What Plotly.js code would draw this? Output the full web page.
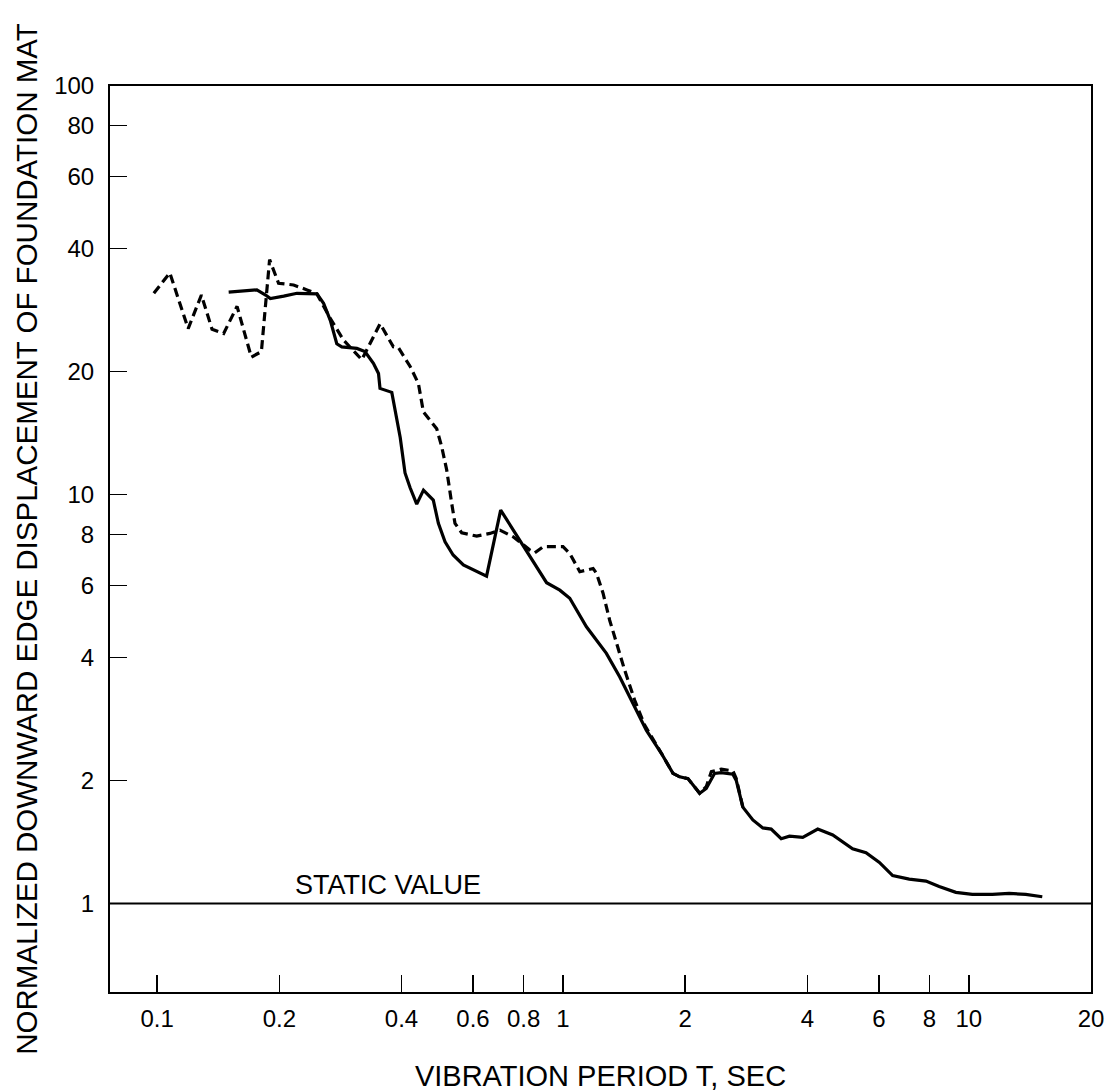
<!DOCTYPE html>
<html><head><meta charset="utf-8">
<script src="https://cdn.plot.ly/plotly-3.0.1.min.js"></script>
<style>html,body{margin:0;padding:0;background:#fff}#chart{width:1116px;height:1092px}</style>
</head><body><div id="chart"></div>
<script>
// Solid curve: vibration period T (sec) vs normalized displacement
const solidPeriod = [0.150,0.176,0.185,0.190,0.205,0.221,0.2475,0.257,0.267,0.277,0.285,0.3105,0.325,0.341,0.351,0.354,0.3785,0.386,0.397,0.408,0.420,0.436,0.453,0.479,0.493,0.512,0.536,0.568,0.648,0.702,0.754,0.829,0.911,0.982,1.039,1.142,1.279,1.380,1.488,1.605,1.747,1.866,1.938,2.032,2.171,2.254,2.362,2.454,2.621,2.672,2.774,2.936,3.107,3.258,3.448,3.614,3.897,4.243,4.62,5.17,5.58,6.02,6.49,7.13,7.84,8.45,9.29,10.2,11.43,12.57,13.81,15.17];
const solidValue  = [31.3,31.7,30.8,30.2,30.6,31.1,31.0,29.4,26.7,23.4,23.0,22.8,22.4,20.96,19.8,18.2,17.8,16.1,13.8,11.3,10.4,9.48,10.26,9.70,8.51,7.67,7.12,6.73,6.32,9.17,8.19,7.05,6.09,5.84,5.58,4.75,4.09,3.58,3.09,2.65,2.33,2.08,2.04,2.02,1.86,1.91,2.08,2.09,2.07,2.00,1.72,1.60,1.53,1.52,1.44,1.46,1.45,1.52,1.47,1.36,1.33,1.26,1.17,1.147,1.134,1.10,1.064,1.052,1.052,1.058,1.052,1.038];
// Dashed curve
const dashedPeriod = [0.0981,0.1074,0.1192,0.1285,0.1365,0.1458,0.1573,0.1706,0.1806,0.1892,0.1991,0.2168,0.2339,0.2475,0.2669,0.2877,0.3193,0.3542,0.3819,0.3929,0.4200,0.4402,0.4528,0.4703,0.4884,0.5024,0.5168,0.5317,0.5417,0.5627,0.6127,0.6606,0.6990,0.7536,0.8287,0.8523,0.8934,1.000,1.039,1.100,1.142,1.186,1.209,1.255,1.303,1.354,1.419,1.502,1.589,1.747,1.866,1.938,2.032,2.171,2.254,2.32,2.454,2.621,2.672,2.774];
const dashedValue  = [31.1,34.9,25.5,30.8,25.4,24.8,28.9,21.7,22.4,37.6,32.9,32.6,31.7,31.0,27.0,23.9,21.4,26.2,23.0,22.9,20.6,18.7,15.95,15.2,14.5,13.1,11.5,9.52,8.51,8.07,7.92,8.04,8.19,7.89,7.32,7.21,7.46,7.46,7.18,6.48,6.54,6.60,6.42,5.74,4.93,4.33,3.72,3.14,2.73,2.33,2.08,2.04,2.02,1.86,1.93,2.10,2.13,2.11,2.02,1.72];

const xTickValues = [0.1,0.2,0.4,0.6,0.8,1,2,4,6,8,10,20];
const xTickLabels = ["0.1","0.2","0.4","0.6","0.8","1","2","4","6","8","10","20"];
const yTickValues = [1,2,4,6,8,10,20,40,60,80,100];
const yTickLabels = ["1","2","4","6","8","10","20","40","60","80","100"];
const xLimits = [0.0765, 20];
const yLimits = [0.607, 100];
const staticValue = 1;
const staticLabel = "STATIC VALUE";
const staticLabelPeriod = 0.37;
const xTitle = "VIBRATION PERIOD T, SEC";
const yTitle = "NORMALIZED DOWNWARD EDGE DISPLACEMENT OF FOUNDATION MAT";

const FONT = '"Liberation Sans", Arial, sans-serif';

const traces = [
  {x: solidPeriod, y: solidValue, mode: 'lines', type: 'scatter',
   line: {color: '#000', width: 3.2, shape: 'linear'}, hoverinfo: 'x+y'},
  {x: dashedPeriod, y: dashedValue, mode: 'lines', type: 'scatter',
   line: {color: '#000', width: 3.2, dash: '9px,5px'}, hoverinfo: 'x+y'}
];

const axisCommon = {
  type: 'log', showgrid: false, zeroline: false,
  showline: true, linecolor: '#000', linewidth: 2, mirror: true,
  ticks: 'inside', ticklen: 17, tickwidth: 1.5, tickcolor: '#000',
  tickmode: 'array',
  tickfont: {family: FONT, size: 24, color: '#000'}
};

const layout = {
  width: 1116, height: 1092,
  margin: {l: 110, r: 25, t: 86, b: 100},
  paper_bgcolor: '#fff', plot_bgcolor: '#fff',
  showlegend: false,
  font: {family: FONT, color: '#000'},
  xaxis: Object.assign({}, axisCommon, {
    range: [Math.log10(xLimits[0]), Math.log10(xLimits[1])],
    tickvals: xTickValues, ticktext: xTickLabels,
    ticklabelstandoff: 4,
    title: {text: xTitle, font: {family: FONT, size: 29, color: '#000'}, standoff: 38}
  }),
  yaxis: Object.assign({}, axisCommon, {
    range: [Math.log10(yLimits[0]), Math.log10(yLimits[1])],
    tickvals: yTickValues, ticktext: yTickLabels,
    ticklabelstandoff: 9,
    title: {text: yTitle, font: {family: FONT, size: 29.5, color: '#000'}, standoff: 8}
  }),
  shapes: [{
    type: 'line', xref: 'paper', yref: 'y', x0: 0, x1: 1, y0: staticValue, y1: staticValue,
    line: {color: '#000', width: 2}
  }],
  annotations: [{
    x: Math.log10(staticLabelPeriod), y: Math.log10(staticValue), xref: 'x', yref: 'y',
    text: staticLabel, showarrow: false, xanchor: 'center', yanchor: 'bottom', yshift: 1,
    font: {family: FONT, size: 27, color: '#000'}
  }]
};

Plotly.newPlot('chart', traces, layout, {staticPlot: true, displayModeBar: false});
</script>
</body></html>
